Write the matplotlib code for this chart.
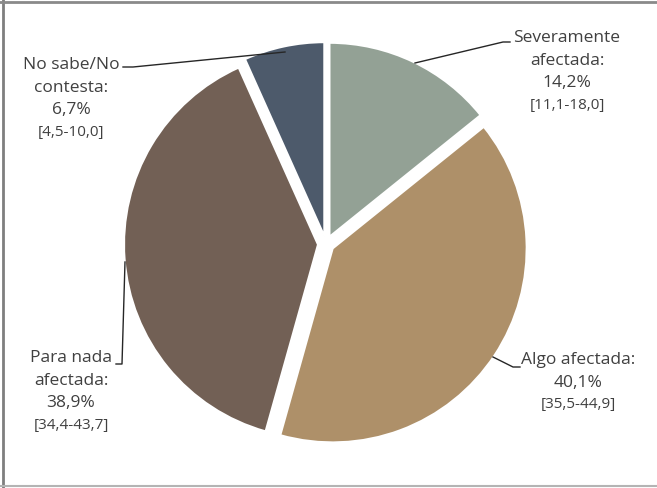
import matplotlib
matplotlib.use('Agg')
import matplotlib.pyplot as plt
from matplotlib.lines import Line2D

plt.rcParams['font.family'] = ['Open Sans', 'DejaVu Sans']

# datos de la encuesta
categorias = ['Severamente\nafectada:', 'Algo afectada:', 'Para nada\nafectada:', 'No sabe/No\ncontesta:']
porcentajes = [14.2, 40.1, 38.9, 6.7]
intervalos = ['[11,1-18,0]', '[35,5-44,9]', '[34,4-43,7]', '[4,5-10,0]']
colores = ['#93a195', '#ae9069', '#726055', '#4d5a6b']

W, H = 657, 488
fig = plt.figure(figsize=(W / 100, H / 100), dpi=100)
ax = fig.add_axes([0, 0, 1, 1])

def py(y):
    # coordenada en pixeles desde arriba
    return H - y

# explode va en unidades de datos (pixeles)
ax.pie(porcentajes, colors=colores, startangle=90, counterclock=False,
       explode=[8] * 4, center=(326, py(244)), radius=194,
       wedgeprops=dict(edgecolor='white', linewidth=1.5))
ax.set_xlim(0, W)
ax.set_ylim(0, H)
ax.set_aspect('equal')
ax.axis('off')

txt = '#404040'
fmt = lambda v: f'{v:.1f}'.replace('.', ',') + '%'

# (x centro, y primera linea) de cada etiqueta
pos = [(567, 38), (578, 360), (71, 358), (71, 65)]
for cat, v, ic, (x, y) in zip(categorias, porcentajes, intervalos, pos):
    lineas = cat.split('\n') + [fmt(v)]
    for i, l in enumerate(lineas):
        ax.text(x, py(y + 22.7 * i), l, ha='center', va='center',
                fontsize=12.5, color=txt)
    ax.text(x, py(y + 22.7 * len(lineas) - 1), ic, ha='center', va='center',
            fontsize=11, color=txt)

# lineas guia
guias = [
    [(415, 63), (503, 42), (510, 42)],
    [(493, 357), (513, 367), (520, 367)],
    [(125, 262), (122, 364), (116, 364)],
    [(285, 52), (133, 67), (123, 67)],
]
for g in guias:
    ax.plot([p[0] for p in g], [py(p[1]) for p in g], color='#262626', lw=1)

# marco
fig.add_artist(Line2D([2.5 / W, 2.5 / W], [0, 1], color='#7f7f7f', lw=2))
fig.add_artist(Line2D([0, 1], [1 - 1.5 / H, 1 - 1.5 / H], color='#8a8a8a', lw=2))
fig.add_artist(Line2D([0, 1], [1 - 486 / H, 1 - 486 / H], color='#b4b4b4', lw=1.5))

fig.savefig('out.png', dpi=100)
